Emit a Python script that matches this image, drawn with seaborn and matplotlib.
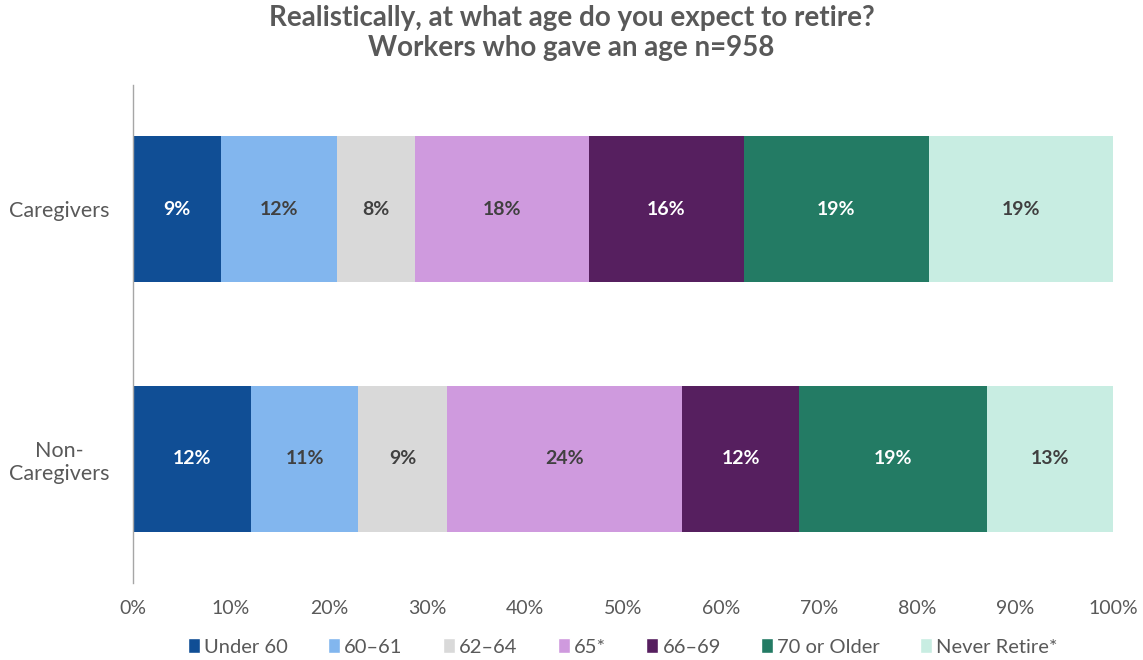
import numpy as np
import pandas as pd
import matplotlib.pyplot as plt
import seaborn as sns
from matplotlib.patches import Patch

groups = ['Caregivers', 'Non-\nCaregivers']
series = ['Under 60', '60–61', '62–64', '65*', '66–69', '70 or Older', 'Never Retire*']
caregivers = [9.0, 11.8, 8.0, 17.7, 15.8, 18.9, 18.8]
non_caregivers = [12.0, 11.0, 9.0, 24.0, 12.0, 19.1, 12.9]
labels_care = ['9%', '12%', '8%', '18%', '16%', '19%', '19%']
labels_non = ['12%', '11%', '9%', '24%', '12%', '19%', '13%']
colors = ['#104E95', '#82B6EE', '#D9D9D9', '#CF9ADE', '#561F5F', '#237B64', '#C8EDE2']
text_colors = ['white', '#404040', '#404040', '#404040', 'white', 'white', '#404040']

sns.set_theme(style='white')
plt.rcParams['font.family'] = ['Lato', 'DejaVu Sans']

df = pd.DataFrame({'group': np.repeat(groups, len(series)),
                   'series': series * len(groups),
                   'value': caregivers + non_caregivers})
df['cum'] = df.groupby('group', sort=False)['value'].cumsum()

fig = plt.figure(figsize=(11.43, 6.6), dpi=100)
ax = fig.add_axes([0.1164, 0.1167, 0.8574, 0.7545])

# draw cumulative bars from the longest down so each segment shows
for i in reversed(range(len(series))):
    sub = df[df['series'] == series[i]]
    sns.barplot(data=sub, x='cum', y='group', order=groups, orient='h',
                color=colors[i], width=0.584, saturation=1, ax=ax, linewidth=0)

for gi, (vals, labs) in enumerate([(caregivers, labels_care), (non_caregivers, labels_non)]):
    left = 0
    for i, (v, lab) in enumerate(zip(vals, labs)):
        ax.text(left + v / 2, gi, lab, ha='center', va='center',
                fontsize=14, fontweight='bold', color=text_colors[i])
        left += v

ax.set_xlim(0, 100)
ax.set_ylim(1.496, -0.496)
ax.set_xticks(range(0, 101, 10))
ax.set_xticklabels([f'{t}%' for t in range(0, 101, 10)])
ax.set_xlabel('')
ax.set_ylabel('')
ax.tick_params(axis='both', length=0, labelsize=15.5, labelcolor='#595959', pad=8)
ax.tick_params(axis='x', labelsize=14, pad=12)
for lab in ax.get_yticklabels():
    lab.set_horizontalalignment('center')
    lab.set_x(-0.064)
for s in ['top', 'right', 'bottom']:
    ax.spines[s].set_visible(False)
ax.spines['left'].set_color('#A6A6A6')
ax.spines['left'].set_linewidth(1)

fig.suptitle('Realistically, at what age do you expect to retire?\nWorkers who gave an age n=958',
             fontsize=20, fontweight='bold', color='#595959', y=0.993, linespacing=1.2)

handles = [Patch(facecolor=c, label=s) for c, s in zip(colors, series)]
leg = fig.legend(handles=handles, loc='center', bbox_to_anchor=(0.545, 0.02), ncol=7,
                 frameon=False, fontsize=14.5, handlelength=0.6, handleheight=0.8,
                 handletextpad=0.2, columnspacing=2.0)
for t in leg.get_texts():
    t.set_color('#595959')

fig.savefig('out.png', dpi=100)
